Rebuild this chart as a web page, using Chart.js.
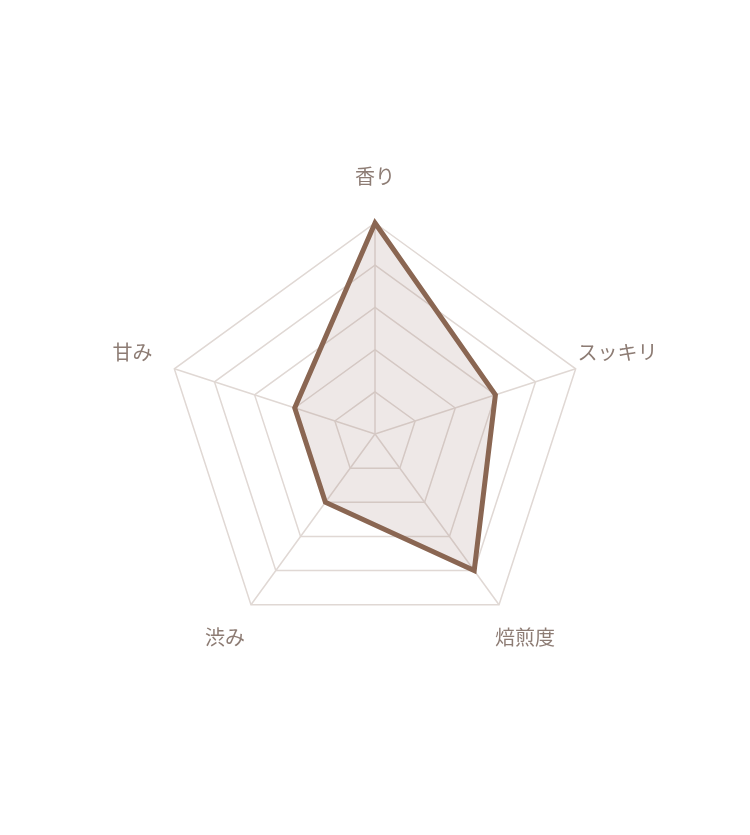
<!DOCTYPE html>
<html>
<head>
<meta charset="utf-8">
<script src="https://cdn.jsdelivr.net/npm/chart.js@4"></script>
<style>
    html, body { margin: 0; padding: 0; background: #fff; }
    #wrap { width: 750px; height: 835px; }
</style>
</head>
<body>
<div id="wrap"><canvas id="radarChart"></canvas></div>
<script>
const labels = ['香り', 'スッキリ', '焙煎度', '渋み', '甘み'];
const values = [5, 3, 4, 2, 2];
const tickMax = 5;

// etichette centrate sull'asse, un po' fuori dal pentagono
const centeredLabels = {
    id: 'centeredLabels',
    afterDraw(chart) {
        const scale = chart.scales.r;
        const ctx = chart.ctx;
        ctx.save();
        ctx.font = '20px "Noto Sans CJK JP", sans-serif';
        ctx.fillStyle = '#8d7c74';
        ctx.textAlign = 'center';
        ctx.textBaseline = 'middle';
        chart.data.labels.forEach((label, i) => {
            const pos = scale.getPointPosition(i, scale.drawingArea + 44);
            ctx.fillText(label, pos.x, pos.y - 3);
        });
        ctx.restore();
    }
};

function createChartConfig(data) {
    return {
        type: 'radar',
        data: data,
        options: {
            responsive: true,
            maintainAspectRatio: false,
            animation: false,
            layout: {
                padding: { top: 223, bottom: 190, left: 164, right: 164 }
            },
            plugins: {
                legend: { display: false },
                tooltip: { enabled: false }
            },
            scales: {
                r: {
                    min: 0,
                    max: tickMax,
                    ticks: { stepSize: 1, display: false },
                    grid: { color: 'rgba(224, 216, 212, 1)', lineWidth: 1.5 },
                    angleLines: { color: 'rgba(224, 216, 212, 1)', lineWidth: 1.5 },
                    pointLabels: { display: false }
                }
            }
        },
        plugins: [centeredLabels]
    };
}

document.addEventListener('DOMContentLoaded', () => {
    const chartData = {
        labels: labels,
        datasets: [{
            data: values,
            borderColor: '#8a6652',
            backgroundColor: 'rgba(160, 130, 120, 0.18)',
            borderWidth: 5,
            pointRadius: 0,
            borderJoinStyle: 'miter'
        }]
    };
    new Chart(document.getElementById('radarChart'), createChartConfig(chartData));
});
</script>
</body>
</html>
